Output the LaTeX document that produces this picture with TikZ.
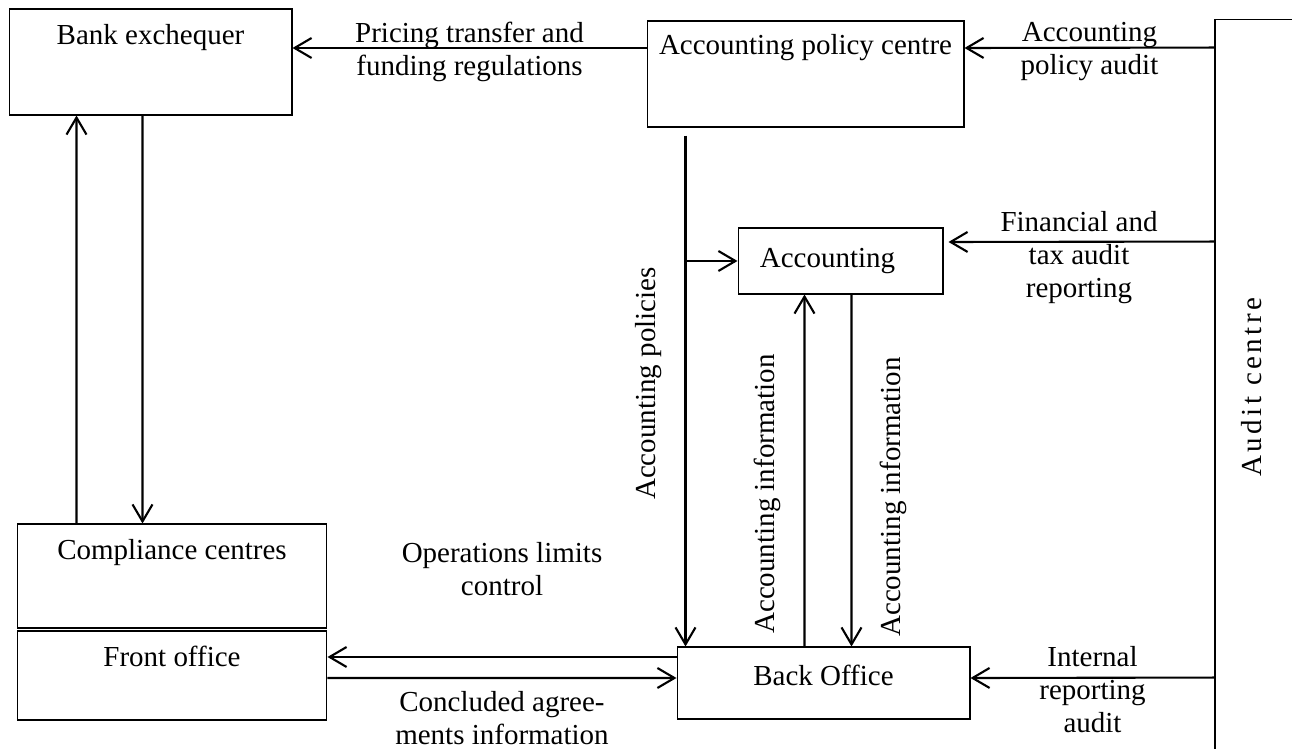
\documentclass[tikz,border=0pt]{standalone}
\usepackage{fontspec}
\setmainfont{Liberation Serif}
\usetikzlibrary{arrows.meta,calc}

\begin{document}
\begin{tikzpicture}[x=0.02cm,y=-0.02cm,
    font=\fontsize{16.5}{18.7}\selectfont,
    blk/.style={draw,line width=0.6pt,inner sep=0pt},
    lbl/.style={align=center,inner sep=0pt},
    arr/.style={line width=1.2pt,-{Straight Barb[length=0.34cm,width=0.4cm]}}]
  \useasboundingbox (0,0) rectangle (1292,749);
  \clip (0,0) rectangle (1292,749);
  % boxes
  \node[blk,minimum width=5.66cm,minimum height=2.12cm,
    label={[lbl,anchor=north,yshift=-0.32cm]north:Bank exchequer}] (bank) at (150.5,62) {};
  \node[blk,minimum width=6.34cm,minimum height=2.12cm,
    label={[lbl,anchor=north,yshift=-0.28cm]north:Accounting policy centre}] (apc) at (805.5,74) {};
  \node[blk,minimum width=4.1cm,minimum height=1.32cm,
    label={[lbl,xshift=-0.26cm]center:Accounting}] (acc) at (840.5,261) {};
  \node[blk,minimum width=6.2cm,minimum height=2.08cm,
    label={[lbl,anchor=north,yshift=-0.32cm]north:Compliance centres}] (comp) at (172,576) {};
  \node[blk,minimum width=6.2cm,minimum height=1.78cm,
    label={[lbl,anchor=north,yshift=-0.3cm]north:Front office}] (front) at (172,675.5) {};
  \node[blk,minimum width=5.86cm,minimum height=1.44cm,
    label={[lbl,yshift=0.16cm]center:Back Office}] (back) at (823.5,683) {};
  \node[blk,minimum width=2.5cm,minimum height=15.62cm] (aud) at (1277.5,409.5) {};
  \node[lbl,rotate=90] (audt) at (1252,387) {\addfontfeature{LetterSpace=12}Audit centre};

  % top row
  \draw[arr] ($(apc.west)+(0,-26)$) -- ($(bank.east)+(0,-14)$)
    node[lbl,midway,yshift=-0.08cm] (ptf) {Pricing transfer and\\funding regulations};
  \draw[arr] ($(aud.north west)+(0,29)$) -- ($(apc.east)+(0,-26)$)
    node[lbl,midway,yshift=-0.08cm] (apa) {Accounting\\policy audit};
  \draw[arr,shorten >=0.1cm] ($(aud.north west)+(0,223)$) -- ($(acc.east)+(0,-19)$)
    node[lbl,midway,yshift=-0.32cm] (fta) {Financial and\\tax audit\\reporting};
  \draw[arr] ($(aud.north west)+(0,659)$) -- ($(back.east)+(0,-5)$)
    node[lbl,midway,yshift=-0.24cm] (ira) {Internal\\reporting\\audit};

  % exchequer and compliance
  \draw[arr] ($(comp.north west)+(60,0)$) -- ($(bank.south west)+(68,0)$);
  \draw[arr] ($(bank.south west)+(134,0)$) -- ($(comp.north west)+(126,0)$);

  % accounting policies
  \coordinate (ptop) at ($(apc.south west)+(39,8)$);
  \draw[arr] (ptop) -- (ptop |- back.north);
  \draw[arr] (ptop |- acc.west) -- (acc.west);
  \node[lbl,rotate=90] (apol) at (648.5,383.5) {Accounting policies};

  % accounting information
  \draw[arr] ($(back.north west)+(128,0)$) -- ($(acc.south west)+(67,0)$);
  \draw[arr] ($(acc.south west)+(114,0)$) -- ($(back.north west)+(175,0)$);
  \node[lbl,rotate=90] (ainf1) at (767.5,494) {Accounting information};
  \node[lbl,rotate=90] (ainf2) at (893,497) {Accounting information};

  % front and back office
  \draw[arr] ($(back.west)+(0,-26)$) -- ($(front.east)+(0,-18.5)$)
    node[lbl,midway,above=1.2cm] (olc) {Operations limits\\control};
  \draw[arr] ($(front.east)+(0,2.5)$) -- ($(back.west)+(0,-5)$)
    node[lbl,midway,below=0.24cm] (cai) {Concluded agree-\\ments information};
\end{tikzpicture}
\end{document}
